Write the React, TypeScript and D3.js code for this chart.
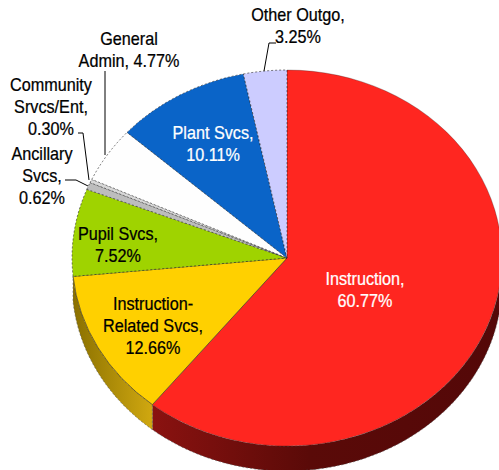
import * as d3 from 'd3';

const categories = ['Instruction', 'Instruction-Related Svcs', 'Pupil Svcs', 'Ancillary Svcs', 'Community Srvcs/Ent', 'General Admin', 'Plant Svcs', 'Other Outgo'];
const shares = [60.77, 12.66, 7.52, 0.62, 0.30, 4.77, 10.11, 3.25];
const sliceColors = ['#ff2620', '#ffd000', '#9fd300', '#bdbdbd', '#d8d8d8', '#fefefe', '#0a64c8', '#ccccff'];
const wallColors: Record<string, [string, string]> = {
  Instruction: ['#540808', '#8a1210'],
  'Instruction-Related Svcs': ['#d0a810', '#8a7000'],
};

// label text, one entry per line, placed by hand like the original
const labels = [
  { lines: ['Instruction,', '60.77%'], x: 365, y: 285, fill: '#fff' },
  { lines: ['Instruction-', 'Related Svcs,', '12.66%'], x: 153, y: 310, fill: '#000' },
  { lines: ['Pupil Svcs,', '7.52%'], x: 118, y: 240, fill: '#000' },
  { lines: ['Ancillary', 'Svcs,', '0.62%'], x: 42, y: 160, fill: '#000' },
  { lines: ['Community', 'Srvcs/Ent,', '0.30%'], x: 51, y: 91, fill: '#000' },
  { lines: ['General', 'Admin, 4.77%'], x: 129, y: 45, fill: '#000' },
  { lines: ['Plant Svcs,', '10.11%'], x: 213, y: 139, fill: '#fff' },
  { lines: ['Other Outgo,', '3.25%'], x: 298, y: 21, fill: '#000' },
];

const leaders = [
  [[78, 133], [83, 133], [89, 180]],
  [[65, 180], [76, 180], [88, 186]],
  [[105, 71], [105, 155]],
  [[276, 43], [269, 43], [264, 71]],
];

const cx = 287;
const cy = 258;
const rx = 215;
const ry = 188;
const depth = 25;
const lineH = 22;

export default function App() {
  const pie = d3.pie<number>().sort(null).value(d => d);
  const slices = pie(shares);
  const arc = d3.arc<d3.PieArcDatum<number>>().innerRadius(0).outerRadius(1);

  // side walls only show on the front half of the disc
  const wall = d3.area<number>()
    .x(a => cx + rx * Math.sin(a))
    .y0(a => cy - ry * Math.cos(a))
    .y1(a => cy - ry * Math.cos(a) + depth);

  const walls = slices.flatMap((s, i) => {
    const from = Math.max(s.startAngle, Math.PI / 2);
    const to = Math.min(s.endAngle, Math.PI * 1.5);
    if (to <= from) return [];
    return [{ i, d: wall(d3.range(from, to, 0.01).concat(to)) ?? '', x0: cx + rx * Math.sin(from), x1: cx + rx * Math.sin(to) }];
  });

  return (
    <svg
      width={499}
      height={470}
      style={{ position: 'absolute', left: 0, top: 0, display: 'block', background: '#fff' }}
      fontFamily="'Liberation Sans', sans-serif"
      fontSize={18}
    >
      <defs>
        {walls.filter(w => wallColors[categories[w.i]]).map(w => (
          <linearGradient key={w.i} id={`wall${w.i}`} gradientUnits="userSpaceOnUse" x1={w.x0} x2={w.x1} y1={0} y2={0}>
            <stop offset="0" stopColor={wallColors[categories[w.i]][0]} />
            <stop offset={w.i === 0 ? 0.55 : 1} stopColor={w.i === 0 ? '#5a0a08' : wallColors[categories[w.i]][1]} />
            <stop offset="1" stopColor={wallColors[categories[w.i]][1]} />
          </linearGradient>
        ))}
      </defs>

      {walls.filter(w => wallColors[categories[w.i]]).map(w => (
        <path key={w.i} d={w.d} fill={`url(#wall${w.i})`} stroke="#555" strokeWidth={0.6} strokeDasharray="2 2" />
      ))}

      <g transform={`translate(${cx},${cy}) scale(${rx},${ry})`}>
        {slices.map((s, i) => (
          <path
            key={categories[i]}
            d={arc(s) ?? ''}
            fill={sliceColors[i]}
            stroke="#222"
            strokeWidth={0.8}
            strokeDasharray={i === 0 || i === 1 ? undefined : '2 2'}
            strokeOpacity={i === 0 ? 0.35 : 0.75}
            vectorEffect="non-scaling-stroke"
          />
        ))}
      </g>

      {leaders.map((pts, i) => (
        <path key={i} d={d3.line()(pts as [number, number][]) ?? ''} fill="none" stroke="#000" strokeWidth={1} />
      ))}

      {/* no narrow font here, so squeeze the regular one */}
      {labels.map(l => (
        <text
          key={l.lines[0]}
          transform={`translate(${l.x},${l.y}) scale(0.9,1)`}
          textAnchor="middle"
          fill={l.fill}
          stroke={l.fill}
          strokeWidth={0.25}
        >
          {l.lines.map((t, i) => (
            <tspan key={t} x={0} dy={i === 0 ? 0 : lineH}>{t}</tspan>
          ))}
        </text>
      ))}
    </svg>
  );
}
